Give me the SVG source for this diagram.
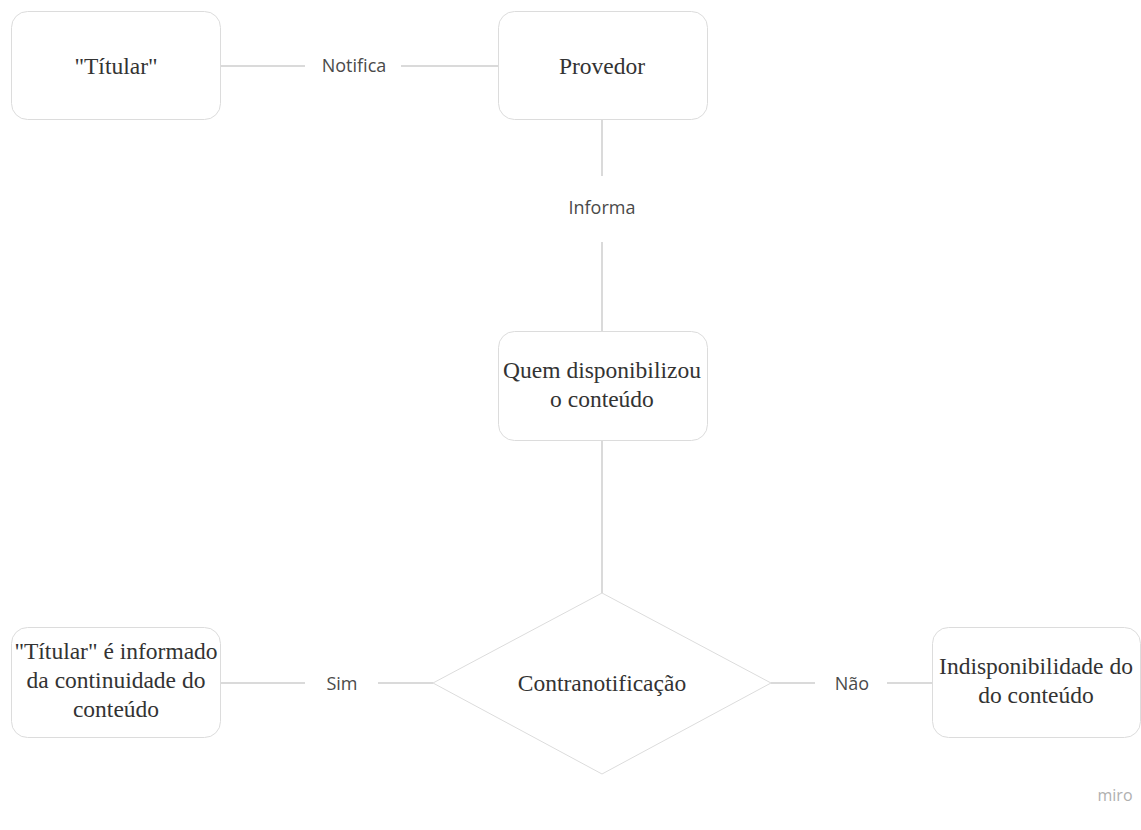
<svg xmlns="http://www.w3.org/2000/svg" width="1141" height="830" viewBox="0 0 1141 830">
<style>
.box{fill:#fff;stroke:#dcdcdc;stroke-width:1}
.nt{font-family:"Liberation Serif","DejaVu Serif",serif;font-size:23.5px;fill:#333;text-anchor:middle}
.lb{font-family:"Open Sans","Noto Sans",sans-serif;font-size:18px;fill:#4a4a4a;text-anchor:middle}
.ln{stroke:#b5b5b5;stroke-width:1;fill:none}
</style>
<rect width="1141" height="830" fill="#fff"/>
<g id="connectors">
<line class="ln" x1="221" y1="66" x2="305" y2="66"/>
<text class="lb" x="354" y="72">Notifica</text>
<line class="ln" x1="401" y1="66" x2="498" y2="66"/>
<line class="ln" x1="602" y1="119" x2="602" y2="176"/>
<text class="lb" x="602" y="214">Informa</text>
<line class="ln" x1="602" y1="242" x2="602" y2="331"/>
<line class="ln" x1="602" y1="440" x2="602" y2="593"/>
<line class="ln" x1="221" y1="683" x2="305" y2="683"/>
<text class="lb" x="342" y="690">Sim</text>
<line class="ln" x1="378" y1="683" x2="433" y2="683"/>
<line class="ln" x1="771" y1="683" x2="815" y2="683"/>
<text class="lb" x="852" y="690">Não</text>
<line class="ln" x1="887" y1="683" x2="933" y2="683"/>
</g>
<g id="titular">
<rect class="box" x="11.5" y="11.5" width="209" height="108" rx="16"/>
<text class="nt" x="116" y="74">"Títular"</text>
</g>
<g id="provedor">
<rect class="box" x="498.5" y="11.5" width="209" height="108" rx="16"/>
<text class="nt" x="602" y="74">Provedor</text>
</g>
<g id="quem">
<rect class="box" x="498.5" y="331.5" width="209" height="109" rx="16"/>
<text class="nt" x="602" y="378">Quem disponibilizou</text>
<text class="nt" x="602" y="407">o conteúdo</text>
</g>
<g id="contranotificacao">
<polygon class="box" points="602,593 771,683 602,774 433,683"/>
<text class="nt" x="602" y="691">Contranotificação</text>
</g>
<g id="sim-box">
<rect class="box" x="11.5" y="627.5" width="209" height="110" rx="16"/>
<text class="nt" x="116" y="659">"Títular" é informado</text>
<text class="nt" x="116" y="688">da continuidade do</text>
<text class="nt" x="116" y="717">conteúdo</text>
</g>
<g id="nao-box">
<rect class="box" x="932.5" y="627.5" width="208" height="110" rx="16"/>
<text class="nt" x="1036" y="674">Indisponibilidade do</text>
<text class="nt" x="1036" y="703">do conteúdo</text>
</g>
<text x="1115" y="801" font-family="'Open Sans','Noto Sans',sans-serif" font-size="16" fill="#b0b0b0" text-anchor="middle">miro</text>
</svg>
